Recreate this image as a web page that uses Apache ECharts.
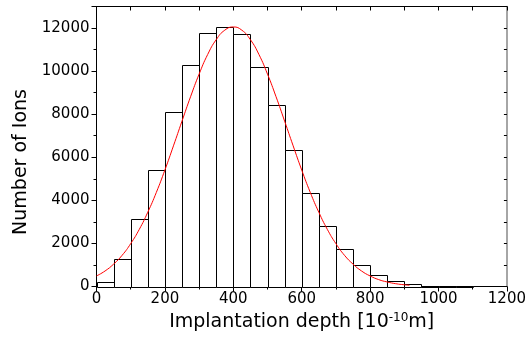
<!DOCTYPE html>
<html>
<head>
<meta charset="utf-8">
<script src="https://cdn.jsdelivr.net/npm/echarts@6/dist/echarts.min.js"></script>
<style>
html,body{margin:0;padding:0;background:#fff;}
#chart{width:529px;height:347px;}
</style>
</head>
<body>
<div id="chart"></div>
<script>
// Histogram bins (left edges) and counts
var binStarts = [0, 50, 100, 150, 200, 250, 300, 350, 400, 450, 500, 550, 600, 650, 700, 750, 800, 850, 900, 950, 1000, 1050];
var binCounts = [200, 1280, 3150, 5400, 8100, 10280, 11750, 12030, 11720, 10190, 8450, 6330, 4330, 2830, 1740, 985, 550, 240, 100, 40, 12, 6];
var binWidth = 50;

// Fitted curve points
var curveX = [0, 25, 50, 75, 100, 125, 150, 175, 200, 225, 250, 275, 300, 325, 350, 375, 400, 425, 450, 475, 500, 525, 550, 575, 600, 625, 650, 675, 700, 725, 750, 775, 800, 825, 850, 875, 900, 915];
var curveY = [490, 720, 1040, 1450, 1990, 2650, 3450, 4370, 5410, 6530, 7680, 8810, 9860, 10770, 11460, 11900, 12050, 11900, 11460, 10770, 9860, 8810, 7680, 6530, 5410, 4370, 3450, 2650, 1990, 1450, 1040, 720, 490, 320, 210, 130, 80, 60];

var xTicks = [0, 200, 400, 600, 800, 1000, 1200];
var yTicks = [0, 2000, 4000, 6000, 8000, 10000, 12000];

var chart = echarts.init(document.getElementById('chart'), null, {renderer: 'canvas'});

var barData = binStarts.map(function (s, i) { return [s, s + binWidth, binCounts[i]]; });
var lineData = curveX.map(function (x, i) { return [x, curveY[i]]; });

var font = 'DejaVu Sans, Liberation Sans, Arial, sans-serif';
var plain = function (v) { return String(v); };

chart.setOption({
  animation: false,
  backgroundColor: '#fff',
  grid: {left: 96.5, right: 18.5, top: 6.5, bottom: 60.5, containLabel: false},
  xAxis: [{
    type: 'value', position: 'bottom', min: 0, max: 1200, interval: 200,
    axisLine: {show: true, lineStyle: {color: '#000', width: 1}},
    axisTick: {show: true, inside: false, length: 5, lineStyle: {color: '#000'}},
    minorTick: {show: true, splitNumber: 2, length: 3, lineStyle: {color: '#000'}},
    splitLine: {show: false},
    axisLabel: {color: '#000', fontSize: 15, fontFamily: font, margin: 5, formatter: plain},
    name: 'Implantation depth [10{sup|-10}m]',
    nameLocation: 'middle', nameGap: 21,
    nameTextStyle: {color: '#000', fontSize: 19, fontFamily: font,
      rich: {sup: {fontSize: 12, fontFamily: font, color: '#000', verticalAlign: 'top', padding: [0, 0, 10, 0]}}}
  }, {
    type: 'value', position: 'top', min: 0, max: 1200, interval: 100,
    axisLine: {show: true, onZero: false, lineStyle: {color: '#000', width: 1}},
    axisTick: {show: true, inside: true, length: 4, lineStyle: {color: '#000'}},
    splitLine: {show: false},
    axisLabel: {show: false}
  }],
  yAxis: [{
    type: 'value', position: 'left', min: 0, max: 13000, interval: 2000,
    axisLine: {show: true, lineStyle: {color: '#000', width: 1}},
    axisTick: {show: true, inside: false, length: 5, lineStyle: {color: '#000'}},
    minorTick: {show: true, splitNumber: 2, length: 3, lineStyle: {color: '#000'}},
    splitLine: {show: false},
    axisLabel: {color: '#000', fontSize: 15, fontFamily: font, margin: 7, showMaxLabel: false, formatter: plain},
    name: 'Number of Ions',
    nameLocation: 'middle', nameGap: 64, nameRotate: 90,
    nameTextStyle: {color: '#000', fontSize: 19, fontFamily: font, padding: [0, 31, 0, 0]}
  }, {
    type: 'value', position: 'right', min: 0, max: 13000, interval: 1000,
    axisLine: {show: true, onZero: false, lineStyle: {color: '#888', width: 1.5}},
    axisTick: {show: true, inside: true, length: 3, lineStyle: {color: '#000'}},
    splitLine: {show: false},
    axisLabel: {show: false}
  }],
  series: [{
    type: 'custom',
    xAxisIndex: 0, yAxisIndex: 0,
    data: barData,
    encode: {x: [0, 1], y: 2},
    renderItem: function (params, api) {
      var p0 = api.coord([api.value(0), api.value(2)]);
      var p1 = api.coord([api.value(1), 0]);
      var x0 = Math.round(p0[0]) + 0.5, x1 = Math.round(p1[0]) + 0.5;
      var y0 = Math.round(p0[1]) + 0.5, y1 = Math.round(p1[1]) + 0.5;
      return {
        type: 'rect',
        shape: {x: x0, y: y0, width: x1 - x0, height: y1 - y0},
        style: {fill: '#fff', stroke: '#000', lineWidth: 1}
      };
    },
    z: 2
  }, {
    type: 'line',
    xAxisIndex: 0, yAxisIndex: 0,
    data: lineData,
    smooth: true,
    showSymbol: false,
    symbol: 'none',
    lineStyle: {color: '#ff0000', width: 1},
    z: 3
  }]
});
</script>
</body>
</html>
